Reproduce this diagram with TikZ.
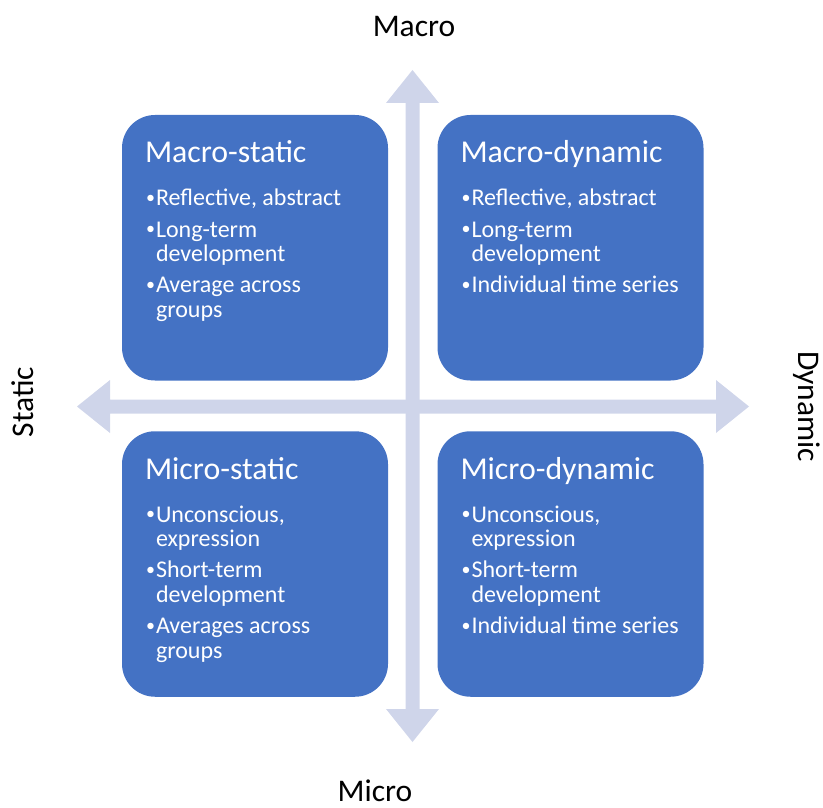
\documentclass[tikz,border=0pt]{standalone}
\usepackage{fontspec}
\setmainfont{Carlito}
\definecolor{boxblue}{HTML}{4472C4}
\definecolor{axiscol}{HTML}{CFD5EA}
\tikzset{
  quad/.style={fill=boxblue, draw=none, rounded corners=33pt, minimum width=266pt, minimum height=265.5pt, inner sep=0pt},
  ttl/.style={anchor=base west, inner sep=0pt, text=white, font=\fontsize{31.8}{36}\selectfont},
  itm/.style={anchor=base west, inner sep=0pt, text=white, font=\fontsize{24}{27}\selectfont},
  axlbl/.style={anchor=base, inner sep=0pt, text=black, font=\fontsize{31.5}{36}\selectfont},
  axarrow/.style={fill=axiscol, draw=none},
}
\newcommand{\bul}{\makebox[10pt][l]{\raisebox{2.2pt}{\fontsize{18}{20}\selectfont •}}}
\newcommand{\cont}{\hspace*{10pt}}
\begin{document}
\begin{tikzpicture}[x=1pt,y=-1pt]
\useasboundingbox (0,0) rectangle (823,808);
\coordinate (c) at (412.5,406.5);
% axes
\fill[axarrow, shift={(c)}] (0,-336.5) -- (26.5,-303.5) -- (7,-303.5) -- (7,302.5) -- (26.5,302.5) -- (0,335.5) -- (-26.5,302.5) -- (-7,302.5) -- (-7,-303.5) -- (-26.5,-303.5) -- cycle;
\fill[axarrow, shift={(c)}] (-335.5,0) -- (-302.5,-26.5) -- (-302.5,-7) -- (303.5,-7) -- (303.5,-26.5) -- (336.5,0) -- (303.5,26.5) -- (303.5,7) -- (-302.5,7) -- (-302.5,26.5) -- cycle;
% quadrants
\node[quad] (tl) at (255,247.75) {};
\node[quad] (tr) at (570.5,247.75) {};
\node[quad] (bl) at (255,564) {};
\node[quad] (br) at (570.5,564) {};
% top-left
\node[ttl] (tlT) at ([shift={(23,48)}]tl.north west) {Macro-static};
\node[itm] (tl1) at ([shift={(24,91)}]tl.north west) {\bul Reflective, abstract};
\node[itm] (tl2) at ([shift={(24,122.2)}]tl.north west) {\bul Long-term};
\node[itm] (tl3) at ([shift={(24,146.9)}]tl.north west) {\cont development};
\node[itm] (tl4) at ([shift={(24,178.1)}]tl.north west) {\bul Average across};
\node[itm] (tl5) at ([shift={(24,202.8)}]tl.north west) {\cont groups};
% top-right
\node[ttl] (trT) at ([shift={(23,48)}]tr.north west) {Macro-dynamic};
\node[itm] (tr1) at ([shift={(24,91)}]tr.north west) {\bul Reflective, abstract};
\node[itm] (tr2) at ([shift={(24,122.2)}]tr.north west) {\bul Long-term};
\node[itm] (tr3) at ([shift={(24,146.9)}]tr.north west) {\cont development};
\node[itm] (tr4) at ([shift={(24,178.1)}]tr.north west) {\bul Individual time series};
% bottom-left
\node[ttl] (blT) at ([shift={(23,48)}]bl.north west) {Micro-static};
\node[itm] (bl1) at ([shift={(24,91)}]bl.north west) {\bul Unconscious,};
\node[itm] (bl2) at ([shift={(24,115.7)}]bl.north west) {\cont expression};
\node[itm] (bl3) at ([shift={(24,146.9)}]bl.north west) {\bul Short-term};
\node[itm] (bl4) at ([shift={(24,171.6)}]bl.north west) {\cont development};
\node[itm] (bl5) at ([shift={(24,202.8)}]bl.north west) {\bul Averages across};
\node[itm] (bl6) at ([shift={(24,227.5)}]bl.north west) {\cont groups};
% bottom-right
\node[ttl] (brT) at ([shift={(23,48)}]br.north west) {Micro-dynamic};
\node[itm] (br1) at ([shift={(24,91)}]br.north west) {\bul Unconscious,};
\node[itm] (br2) at ([shift={(24,115.7)}]br.north west) {\cont expression};
\node[itm] (br3) at ([shift={(24,146.9)}]br.north west) {\bul Short-term};
\node[itm] (br4) at ([shift={(24,171.6)}]br.north west) {\cont development};
\node[itm] (br5) at ([shift={(24,202.8)}]br.north west) {\bul Individual time series};
% axis labels
\node[axlbl] (macro) at (414,37) {Macro};
\node[axlbl] (micro) at (375,801) {Micro};
\node[axlbl, rotate=90] (static) at (33,402) {Static};
\node[axlbl, rotate=-90] (dynamic) at (798,406.5) {Dynamic};
\end{tikzpicture}
\end{document}
